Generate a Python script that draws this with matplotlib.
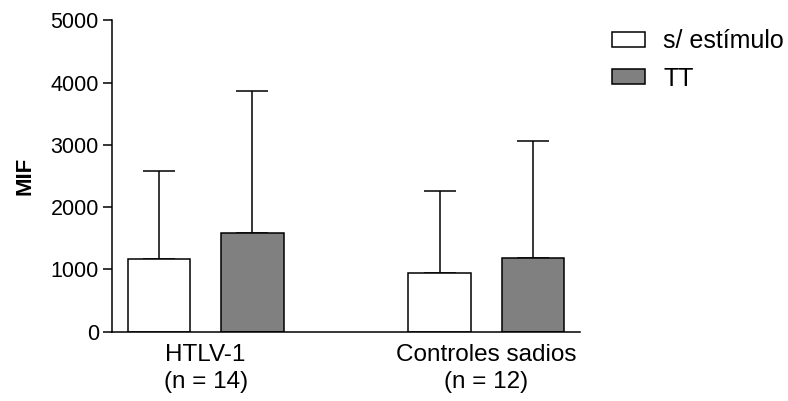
import matplotlib
matplotlib.use("Agg")
import matplotlib.pyplot as plt
import numpy as np

plt.rcParams['font.family'] = ['Liberation Sans', 'DejaVu Sans']

groups = ["HTLV-1\n(n = 14)", "Controles sadios\n(n = 12)"]
series = ["s/ estímulo", "TT"]
means_sem_estimulo = [1167, 937]
means_tt = [1579, 1183]
err_sem_estimulo = [1417, 1321]   # upper error (SD) above bar
err_tt = [2280, 1883]
y_ticks = [0, 1000, 2000, 3000, 4000, 5000]

fig = plt.figure(figsize=(7.88, 4.01), dpi=100)
ax = fig.add_axes([0.1421, 0.1728, 0.5939, 0.7768])

group_centers = np.array([1.5, 6.0])
offset = 0.75
width = 1.0
lw = 1.1

colors = ["white", "#808080"]
vals = [means_sem_estimulo, means_tt]
errs = [err_sem_estimulo, err_tt]
handles = []
for i, (v, e, c, name) in enumerate(zip(vals, errs, colors, series)):
    x = group_centers + (i * 2 - 1) * offset
    b = ax.bar(x, v, width=width, color=c, edgecolor="black", linewidth=lw,
               label=name, zorder=2)
    ax.errorbar(x, v, yerr=[np.zeros(len(e)), e], fmt="none", ecolor="black",
                elinewidth=lw, capsize=11.2, capthick=lw, zorder=1)
    handles.append(b)

ax.set_xlim(0, 7.5)
ax.set_ylim(0, 5000)
ax.set_yticks(y_ticks)
ax.set_yticklabels([str(t) for t in y_ticks])
ax.set_xticks(group_centers)
ax.set_xticklabels(groups)
ax.tick_params(axis='y', length=6.5, width=lw, labelsize=15.5, pad=3)
ax.tick_params(axis='x', length=0, labelsize=17.5, pad=9)
for lab in ax.get_xticklabels():
    lab.set_multialignment('center')
    lab.set_linespacing(1.3)

for s in ["top", "right"]:
    ax.spines[s].set_visible(False)
for s in ["left", "bottom"]:
    ax.spines[s].set_linewidth(lw)

ax.set_ylabel("MIF", fontsize=16, fontweight="bold", labelpad=11)

fig.legend(handles=handles, labels=series, loc="upper left",
           bbox_to_anchor=(612/788, 1 - 29/401), frameon=False, fontsize=18,
           handlelength=1.32, handleheight=0.54, handletextpad=0.72,
           labelspacing=0.55, borderpad=0, borderaxespad=0)

fig.savefig("out.png", dpi=100)
